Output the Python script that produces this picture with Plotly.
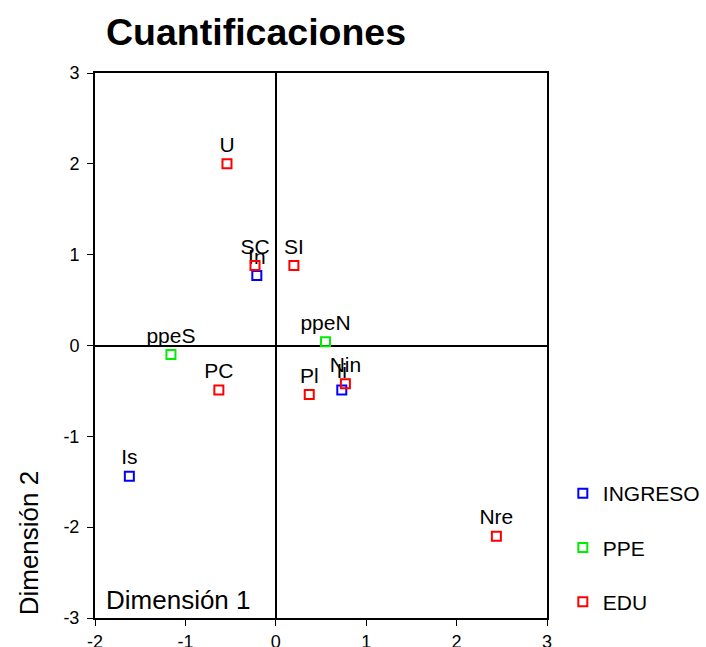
import plotly.graph_objects as go

# data
groups = ["INGRESO", "PPE", "EDU"]
colors = ["#0000ff", "#00ee00", "#ff0000"]
ingreso_labels = ["In", "Ii", "Is"]
ingreso_x = [-0.21, 0.73, -1.62]
ingreso_y = [0.77, -0.49, -1.44]
ppe_labels = ["ppeS", "ppeN"]
ppe_x = [-1.16, 0.55]
ppe_y = [-0.10, 0.04]
edu_labels = ["U", "SC", "SI", "PC", "Pl", "Nin", "Nre"]
edu_x = [-0.54, -0.23, 0.20, -0.63, 0.37, 0.77, 2.44]
edu_y = [2.00, 0.88, 0.88, -0.49, -0.54, -0.42, -2.10]
xticks = [-2, -1, 0, 1, 2, 3]
yticks = [-3, -2, -1, 0, 1, 2, 3]

FONT = "Liberation Sans, Arial, sans-serif"
fig = go.Figure()
series = [(ingreso_x, ingreso_y, ingreso_labels), (ppe_x, ppe_y, ppe_labels), (edu_x, edu_y, edu_labels)]
for i, (xs, ys, labs) in enumerate(series):
    fig.add_trace(go.Scatter(
        x=xs, y=ys, text=labs, mode="markers+text", name=groups[i],
        legendgroup=groups[i],
        textposition="top center",
        textfont=dict(family=FONT, size=21, color="black"),
        marker=dict(symbol="square-open", size=9, color=colors[i], line=dict(width=2, color=colors[i])),
        cliponaxis=False,
    ))

axis_common = dict(showgrid=False, showline=True, linecolor="black", linewidth=2, mirror=True,
                   zeroline=True, zerolinecolor="black", zerolinewidth=2,
                   ticks="outside", ticklen=6, tickcolor="black", tickwidth=1,
                   automargin=False,
                   tickfont=dict(family=FONT, size=18, color="black"))
fig.update_xaxes(range=[-2, 3], tickvals=xticks, ticktext=[str(v) for v in xticks], **axis_common)
fig.update_yaxes(range=[-3, 3], tickvals=yticks, ticktext=[str(v) for v in yticks],
                 ticklabelstandoff=4, **axis_common)

fig.update_layout(
    width=706, height=647,
    margin=dict(l=95, r=159, t=73, b=29, autoexpand=False),
    plot_bgcolor="white", paper_bgcolor="white",
    font=dict(family=FONT, color="black"),
    showlegend=True,
    legend=dict(x=1.035, y=0.266, xanchor="left", yanchor="top", tracegroupgap=24,
                font=dict(family=FONT, size=21, color="black"), itemwidth=30),
    annotations=[
        dict(text="<b>Cuantificaciones</b>", xref="paper", yref="paper", x=0.019, y=1.0,
             yshift=41, xanchor="left", yanchor="middle", showarrow=False,
             font=dict(family=FONT, size=37.5, color="black")),
        dict(text="Dimensión 1", xref="paper", yref="paper", x=0.021, y=0.0, yshift=18,
             xanchor="left", yanchor="middle", showarrow=False,
             font=dict(family=FONT, size=26, color="black")),
        dict(text="Dimensión 2", xref="paper", yref="paper", x=0, xshift=-66, y=0.137,
             xanchor="center", yanchor="middle", textangle=-90, showarrow=False,
             font=dict(family=FONT, size=26, color="black")),
    ],
)
fig.write_html("out.html", config={"displayModeBar": False},
               post_script="document.body.style.margin='0';document.body.style.overflow='hidden';")
